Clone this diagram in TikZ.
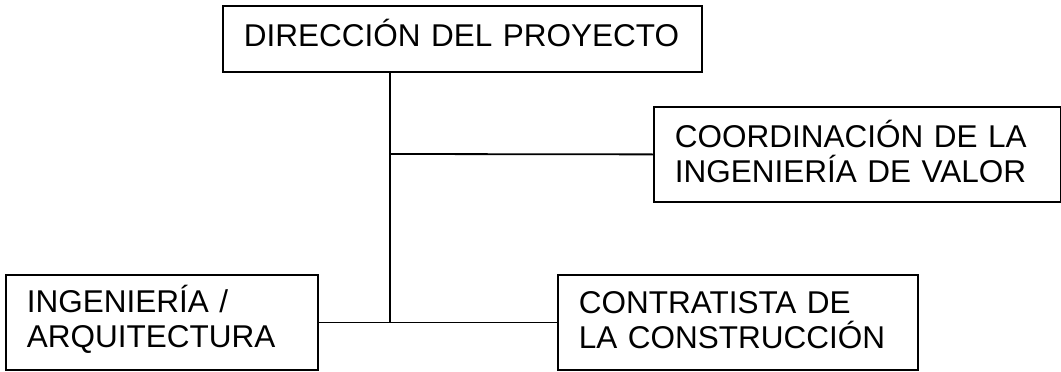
\documentclass[tikz,border=0pt]{standalone}
\usepackage{fontspec}
\setmainfont{Liberation Sans}
\usepackage{tikz}
\tikzstyle{box} = [draw,line width=1.8pt,anchor=north west,align=left,inner xsep=21pt,inner ysep=0pt,font=\fontsize{31.5}{35}\selectfont]
\tikzstyle{line} = [line width=1.8pt]

\begin{document}
\begin{tikzpicture}[x=1pt,y=-1pt]
        \useasboundingbox (0,0) rectangle (1061,372);
        \node[box,text width=437pt,text height=41pt,text depth=25pt] at (222,5) (dir) {DIRECCIÓN DEL PROYECTO};
        \node[box,text width=365pt,text height=41pt,text depth=54pt] at (653,106) (coord) {COORDINACIÓN DE LA\\INGENIERÍA DE VALOR};
        \node[box,text width=270pt,text height=38pt,text depth=57pt] at (5,274) (ing) {INGENIERÍA /\\ARQUITECTURA};
        \node[box,text width=318pt,text height=39pt,text depth=56pt] at (557,274) (cont) {CONTRATISTA DE\\LA CONSTRUCCIÓN};
        \coordinate (jt) at (390,154);
        \coordinate (jb) at (390,322);

        \draw[line] (dir.south -| jt) -- (jb);
        \draw[line] (jt) -- (coord.west);
        \draw[line] (ing.east) -- (cont.west);
    \end{tikzpicture}
\end{document}
